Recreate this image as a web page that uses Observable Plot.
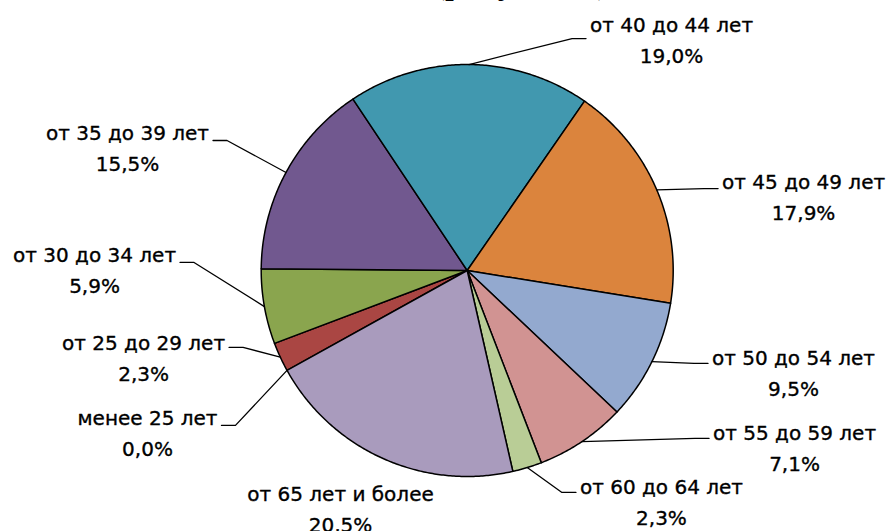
<!DOCTYPE html>
<html>
<head>
<meta charset="utf-8">
<script src="https://cdn.jsdelivr.net/npm/d3@7"></script>
<script src="https://cdn.jsdelivr.net/npm/@observablehq/plot@0.6"></script>
<style>
  body { margin: 0; background: #fff; }
  #title { height: 6px; overflow: hidden; position: relative; width: 889px; }
  #title span { position: absolute; left: 433px; top: -37px; font: 36px "Liberation Serif", serif; line-height: 36px; white-space: nowrap; color: #000; }
  #chart svg { display: block; }
</style>
</head>
<body>
<div id="title"><span>(рисунок 1)</span></div>
<div id="chart"></div>
<script>
// ---- data ----
const categories = ["менее 25 лет", "от 25 до 29 лет", "от 30 до 34 лет", "от 35 до 39 лет", "от 40 до 44 лет",
                    "от 45 до 49 лет", "от 50 до 54 лет", "от 55 до 59 лет", "от 60 до 64 лет", "от 65 лет и более"];
const shares = [0.0, 2.3, 5.9, 15.5, 19.0, 17.9, 9.5, 7.1, 2.3, 20.5];
const colors = ["#4572A7", "#AA4643", "#8AA54E", "#71588F", "#4198AF", "#DB843D", "#93A9CF", "#D19392", "#B9CD96", "#A99BBD"];

// ---- layout (label anchors in pie-radius units, relative to centre, y up) ----
const labelU = [-1.552, -1.571, -1.809, -1.649, 0.992, 1.633, 1.584, 1.589, 0.943, -0.615];
const labelV = [-0.718, -0.354, 0.073, 0.665, 1.189, 0.427, -0.427, -0.791, -1.053, -1.087];
const stubDy = [7, 4, 7, 7, 13, 6, 5, 5, 5, null];
const startAngleDeg = 241;

const W = 889, H = 525, cx = 466.7, cy = 264, R = 206;
const fs = 20, font = "DejaVu Sans";
const toRad = Math.PI / 180;

let acc = startAngleDeg;
const slices = categories.map((c, i) => {
  const a0 = acc, a1 = acc + shares[i] * 3.6; acc = a1;
  return {c, i, a0, a1, mid: (a0 + a1) / 2};
});

const piePts = [];
slices.forEach(s => {
  if (shares[s.i] <= 0) return;
  const pts = [{x: 0, y: 0}];
  const n = Math.max(2, Math.ceil((s.a1 - s.a0) / 0.5));
  for (let k = 0; k <= n; k++) {
    const a = (s.a0 + (s.a1 - s.a0) * k / n) * toRad;
    pts.push({x: Math.sin(a), y: Math.cos(a)});
  }
  pts.push({x: 0, y: 0});
  pts.forEach(p => piePts.push({...p, cat: s.c, color: colors[s.i]}));
});

const ctx = document.createElement("canvas").getContext("2d");
ctx.font = `${fs}px "${font}"`;
const leaderPts = [];
slices.forEach(s => {
  const i = s.i;
  if (stubDy[i] == null) return;
  const w = ctx.measureText(s.c).width;
  const a = s.mid * toRad;
  const ex = Math.sin(a), ey = Math.cos(a);
  const right = labelU[i] > 0;
  const tEdge = labelU[i] + (right ? -1 : 1) * (w / 2 + 4) / R;
  const elbow = tEdge + (right ? -1 : 1) * 14 / R;
  const yy = labelV[i] - stubDy[i] / R;
  leaderPts.push({x: ex, y: ey, cat: s.c}, {x: elbow, y: yy, cat: s.c}, {x: tEdge, y: yy, cat: s.c});
});

const fmt = v => v.toFixed(1).replace(".", ",") + "%";
const textStyle = {fontSize: fs, fontFamily: font, fill: "#000", stroke: "#000", strokeWidth: 0.35};

const chart = Plot.plot({
  width: W, height: H,
  margin: 0,
  x: {domain: [-cx / R, (W - cx) / R], axis: null},
  y: {domain: [-(H - cy) / R, cy / R], axis: null},
  color: {type: "identity"},
  style: {background: "#fff", overflow: "visible"},
  marks: [
    Plot.line(piePts, {x: "x", y: "y", z: "cat", fill: "color", stroke: "#000", strokeWidth: 1.5, strokeLinejoin: "round"}),
    Plot.line(leaderPts, {x: "x", y: "y", z: "cat", stroke: "#000", strokeWidth: 1.3}),
    Plot.text(slices, {x: d => labelU[d.i], y: d => labelV[d.i], text: "c", ...textStyle}),
    Plot.text(slices, {x: d => labelU[d.i], y: d => labelV[d.i], text: d => fmt(shares[d.i]), dy: 31, ...textStyle})
  ]
});
document.getElementById("chart").appendChild(chart);
</script>
</body>
</html>
